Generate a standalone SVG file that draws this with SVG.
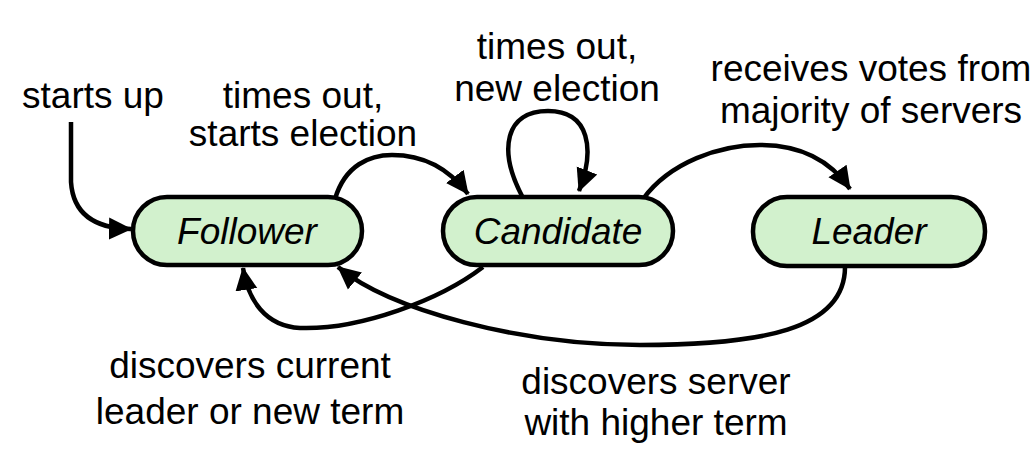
<svg xmlns="http://www.w3.org/2000/svg" width="1034" height="454" viewBox="0 0 1034 454">
<style>
.node{fill:#d2f1cd;stroke:#000;stroke-width:4.5}
.nl{font-family:"Liberation Sans",Arial,sans-serif;font-size:37px;font-style:italic;text-anchor:middle;fill:#000}
.lb{font-family:"Liberation Sans",Arial,sans-serif;font-size:37px;text-anchor:middle;fill:#000}
.edge{fill:none;stroke:#000;stroke-width:4.5}
</style>
<defs>
<marker id="ah" markerUnits="userSpaceOnUse" markerWidth="24" markerHeight="24" viewBox="0 0 24 24" refX="22" refY="12" orient="auto">
<path d="M0,1 L23,12 L0,23 z" fill="#000"/>
</marker>
</defs>
<rect width="1034" height="454" fill="#fff"/>
<g id="connectors">
<path class="edge" marker-end="url(#ah)" d="M71,122 L71,182 Q74,228 131,229"/>
<path class="edge" marker-end="url(#ah)" d="M335,199 C345,165 370,155 392,155 C425,155 450,170 468,194"/>
<path class="edge" marker-end="url(#ah)" d="M522,196 C498,150 505,111 548,111 C590,111 595,150 579,191"/>
<path class="edge" marker-end="url(#ah)" d="M643,199 C670,162 720,145 760,145 C800,145 830,160 850,189"/>
<path class="edge" marker-end="url(#ah)" d="M483,267 C440,300 360,330 300,328 C265,326 248,300 243,268"/>
<path class="edge" marker-end="url(#ah)" d="M845,267 C845,330 760,345 640,345 C520,345 390,310 338,267"/>
</g>
<g id="follower">
<rect class="node" x="133" y="197" width="229" height="68" rx="34"/>
<text class="nl" x="247" y="244">Follower</text>
</g>
<g id="candidate">
<rect class="node" x="443" y="197" width="230" height="68" rx="34"/>
<text class="nl" x="558" y="244">Candidate</text>
</g>
<g id="leader">
<rect class="node" x="753" y="197" width="232" height="69" rx="34"/>
<text class="nl" x="869" y="244">Leader</text>
</g>
<g id="labels">
<text class="lb" x="93" y="108">starts up</text>
<text class="lb" x="303" y="108">times out,</text>
<text class="lb" x="303" y="146">starts election</text>
<text class="lb" x="557" y="59">times out,</text>
<text class="lb" x="557" y="101">new election</text>
<text class="lb" x="871" y="81">receives votes from</text>
<text class="lb" x="871" y="123">majority of servers</text>
<text class="lb" x="250" y="378">discovers current</text>
<text class="lb" x="250" y="424">leader or new term</text>
<text class="lb" x="656" y="394">discovers server</text>
<text class="lb" x="656" y="435">with higher term</text>
</g>
</svg>
